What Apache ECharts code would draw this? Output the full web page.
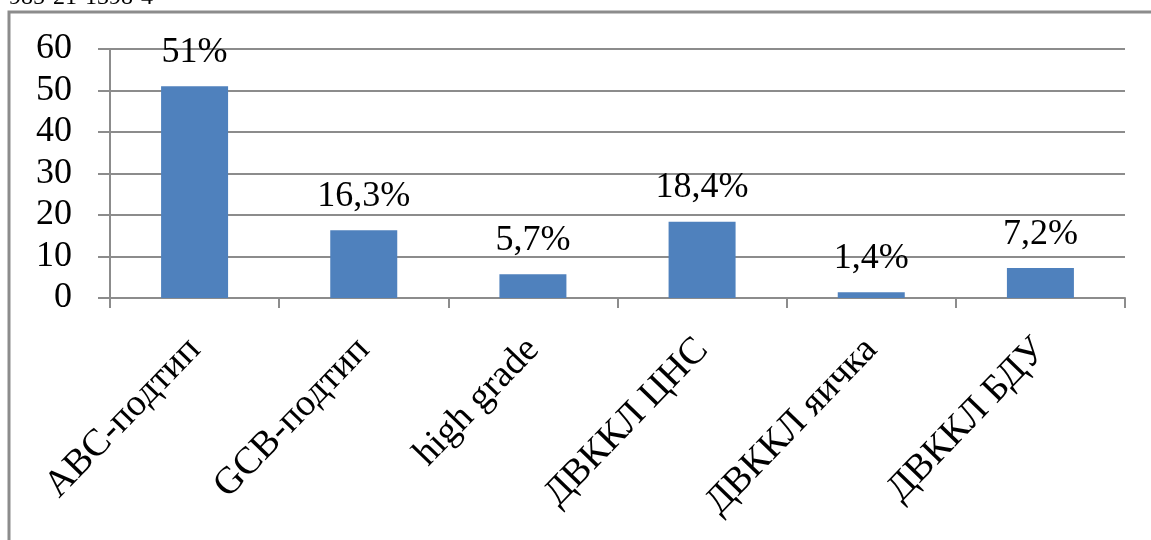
<!DOCTYPE html>
<html lang="ru">
<head>
    <meta charset="UTF-8">
    <title>Chart</title>
    <script src="https://cdn.jsdelivr.net/npm/echarts@6/dist/echarts.min.js"></script>
    <style>
        html, body { margin: 0; padding: 0; background: #fff; }
    </style>
</head>
<body>
    <div id="main" style="width: 1151px;height:540px;"></div>
    <script type="text/javascript">
        // данные
        var categories = ['ABC-подтип', 'GCB-подтип', 'high grade', 'ДВККЛ ЦНС', 'ДВККЛ яичка', 'ДВККЛ БДУ'];
        var values = [51, 16.3, 5.7, 18.4, 1.4, 7.2];
        var yTicks = [0, 10, 20, 30, 40, 50, 60];

        var font = '"Liberation Serif", "Times New Roman", serif';
        var gray = '#8c8c8c';

        var myChart = echarts.init(document.getElementById('main'));
        var option = {
            backgroundColor: '#fff',
            animation: false,
            grid: {
                left: 110,
                right: 26,
                top: 49,
                bottom: 242
            },
            // рамка и обрезанная строка сверху
            graphic: [
                {
                    type: 'polyline',
                    shape: { points: [[9, 560], [9, 12], [1160, 12]] },
                    style: { stroke: gray, lineWidth: 3, fill: null }
                },
                {
                    type: 'text',
                    x: 153,
                    y: 10,
                    style: {
                        text: 'ISBN 978-985-21-1398-4',
                        font: '24px ' + font,
                        fill: '#000',
                        align: 'right',
                        verticalAlign: 'bottom'
                    }
                }
            ],
            xAxis: {
                type: 'category',
                data: categories,
                boundaryGap: true,
                axisLine: { lineStyle: { color: gray, width: 2 } },
                axisTick: { show: true, length: 10, lineStyle: { color: gray, width: 2 } },
                axisLabel: {
                    rotate: 46,
                    interval: 0,
                    margin: 46,
                    color: '#000',
                    fontFamily: font,
                    fontSize: 38
                }
            },
            yAxis: {
                type: 'value',
                min: yTicks[0],
                max: yTicks[yTicks.length - 1],
                interval: 10,
                axisLine: { show: true, lineStyle: { color: gray, width: 2 } },
                axisTick: { show: true, length: 12, lineStyle: { color: gray, width: 2 } },
                splitLine: { lineStyle: { color: gray, width: 2 } },
                axisLabel: {
                    margin: 38,
                    color: '#000',
                    fontFamily: font,
                    fontSize: 36
                }
            },
            series: [
                {
                    type: 'bar',
                    data: values,
                    barWidth: 67,
                    itemStyle: { color: '#4f81bd' },
                    label: {
                        show: true,
                        position: 'top',
                        distance: 16,
                        color: '#000',
                        fontFamily: font,
                        fontSize: 36,
                        formatter: function (p) {
                            return String(p.value).replace('.', ',') + '%';
                        }
                    }
                }
            ]
        };

        myChart.setOption(option);
    </script>
</body>
</html>
